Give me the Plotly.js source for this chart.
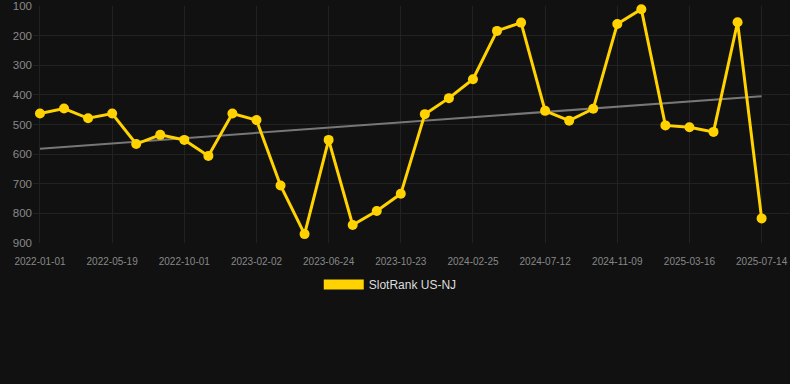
<!DOCTYPE html>
<html>
<head>
<meta charset="utf-8">
<script src="https://cdn.plot.ly/plotly-3.0.1.min.js"></script>
<style>
html,body{margin:0;padding:0;background:#111111;}
#chart{width:790px;height:384px;}
</style>
</head>
<body>
<div id="chart"></div>
<script>
const dates = [
  "2022-01-01","2022-02-16","2022-04-03","2022-05-19","2022-07-03","2022-08-17",
  "2022-10-01","2022-11-11","2022-12-23","2023-02-02","2023-03-19","2023-05-09",
  "2023-06-24","2023-08-03","2023-09-13","2023-10-23","2023-12-03","2024-01-14",
  "2024-02-25","2024-04-10","2024-05-27","2024-07-12","2024-08-21","2024-09-30",
  "2024-11-09","2024-12-21","2025-02-01","2025-03-16","2025-04-25","2025-06-04",
  "2025-07-14"
];
const ranks = [
  463, 446, 479, 463, 566, 535,
  552, 606, 463, 485, 706, 870,
  552, 839, 792, 734, 465, 411,
  347, 184, 156, 454, 487, 447,
  161, 111, 503, 509, 525, 155,
  817
];
const tickDates = ["2022-01-01","2022-05-19","2022-10-01","2023-02-02","2023-06-24",
  "2023-10-23","2024-02-25","2024-07-12","2024-11-09","2025-03-16","2025-07-14"];
const yTicks = [100,200,300,400,500,600,700,800,900];
const seriesName = "SlotRank US-NJ";

// linear regression trend over point index
const n = ranks.length;
const mx = (n - 1) / 2;
const my = ranks.reduce((a, b) => a + b, 0) / n;
let sxy = 0, sxx = 0;
ranks.forEach((v, i) => { sxy += (i - mx) * (v - my); sxx += (i - mx) * (i - mx); });
const slope = sxy / sxx;
const trendY = [my + slope * (0 - mx), my + slope * (n - 1 - mx)];

const gold = "#FFD200";
const traces = [
  {
    x: [dates[0], dates[n - 1]], y: trendY, type: "scatter", mode: "lines",
    line: {color: "#777777", width: 2}, showlegend: false, hoverinfo: "skip"
  },
  {
    x: dates, y: ranks, type: "scatter", mode: "lines+markers",
    line: {color: gold, width: 3}, marker: {color: gold, size: 10},
    cliponaxis: false, showlegend: false, name: seriesName
  },
  {
    x: [null], y: [null], type: "scatter", mode: "lines",
    line: {color: gold, width: 11}, name: seriesName, showlegend: true
  }
];

const layout = {
  width: 790, height: 384,
  paper_bgcolor: "#111111", plot_bgcolor: "#111111",
  font: {family: "'Liberation Sans', Arial, sans-serif", color: "#888888"},
  margin: {l: 33, r: 0, t: 6, b: 141},
  xaxis: {
    type: "category", categoryorder: "array", categoryarray: dates,
    range: [-0.29, 31.18],
    tickmode: "array", tickvals: tickDates, ticktext: tickDates,
    showgrid: true, gridcolor: "#222222", gridwidth: 1,
    zeroline: false, showline: false,
    ticks: "outside", ticklen: 9, tickcolor: "rgba(0,0,0,0)",
    tickfont: {size: 10, color: "#888888"}
  },
  yaxis: {
    range: [900, 100], tickmode: "array", tickvals: yTicks,
    showgrid: true, gridcolor: "#222222", gridwidth: 1,
    zeroline: false, showline: false, ticks: "",
    tickfont: {size: 11.5, color: "#888888"}
  },
  showlegend: true,
  legend: {
    orientation: "h", x: 0.494, xref: "container", xanchor: "center",
    y: 1 - 270 / 384, yref: "container", yanchor: "top",
    itemwidth: 40,
    font: {size: 12, color: "#dddddd"}, bgcolor: "rgba(0,0,0,0)"
  }
};

Plotly.newPlot("chart", traces, layout, {displayModeBar: false, staticPlot: true});
</script>
</body>
</html>
